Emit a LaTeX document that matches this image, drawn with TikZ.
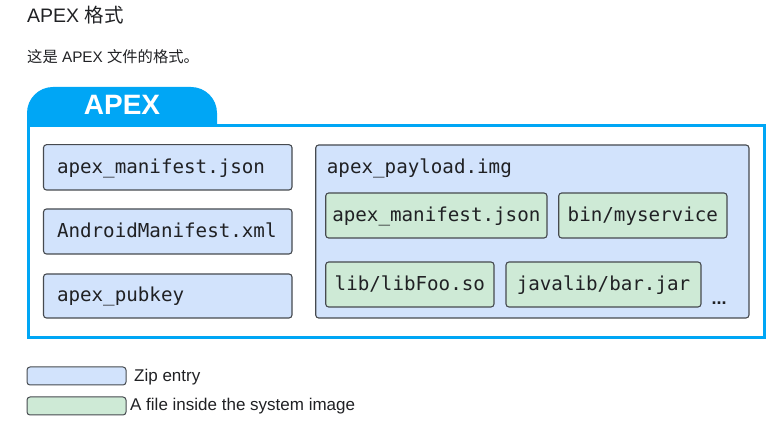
\documentclass[tikz,border=0pt]{standalone}
\usepackage{fontspec}
\setmainfont{Liberation Sans}
\newfontfamily\cjk{Noto Sans CJK SC}
\newfontfamily\monof{DejaVu Sans Mono}
\definecolor{apexblue}{RGB}{0,166,245}
\definecolor{zipfill}{HTML}{D2E3FC}
\definecolor{sysfill}{HTML}{CEEAD6}
\definecolor{boxline}{RGB}{70,74,79}
\definecolor{txt}{HTML}{202124}
\tikzset{
  mono/.style={font=\monof\fontsize{19.2}{22}\selectfont, text=txt},
  entry/.style={draw=boxline, line width=1.1pt, rounded corners=3pt, inner ysep=0pt,
    text height=16pt, text depth=4pt},
  zipbox/.style={entry, fill=zipfill, mono},
  sysbox/.style={entry, fill=sysfill, mono, inner xsep=0pt},
  legbox/.style={draw=boxline, line width=1pt, rounded corners=3pt, minimum width=99pt, minimum height=18pt, inner sep=0pt},
  legtext/.style={anchor=west, inner sep=0pt, text=txt, font=\fontsize{17}{19}\selectfont},
}
\begin{document}
\begin{tikzpicture}[x=1pt,y=-1pt]
\useasboundingbox (0,0) rectangle (780,430);
% title
\node[anchor=base west, inner sep=0pt, text=txt, font=\fontsize{19.5}{22}\selectfont] (title) at (27,23) {APEX {\cjk 格式}};
\node[anchor=base west, inner sep=0pt, text=txt, font=\fontsize{15.3}{17}\selectfont] (sub) at (27,63) {{\cjk 这是} APEX {\cjk 文件的格式。}};
% tab and frame
\fill[apexblue, rounded corners=26pt] (27,125) -- (27,87) -- (217,87) -- (217,125);
\node[anchor=base, inner sep=0pt, text=white, font=\bfseries\fontsize{28}{30}\selectfont] (apex) at (122,115) {APEX};
\draw[apexblue, line width=3pt, fill=white] (28.5,125.5) rectangle (764.5,337.5);
% left column
\node[zipbox, minimum height=45.3pt, inner xsep=13.5pt, text width=221.5pt, align=left] (m1) at (167.75,167.35) {apex\_manifest.json};
\node[zipbox, minimum height=45pt, inner xsep=13.5pt, text width=221.5pt, align=left] (m2) at (167.75,231.5) {AndroidManifest.xml};
\node[zipbox, minimum height=44pt, inner xsep=13.5pt, text width=221.5pt, align=left] (m3) at (167.75,296) {apex\_pubkey};
% payload
\node[entry, fill=zipfill, minimum width=433.3pt, minimum height=173pt] (payload) at (532.35,231.5) {};
\node[mono, anchor=base west, inner sep=0pt] (ptitle) at (326.7,174) {apex\_payload.img};
\node[sysbox, minimum width=221.3pt, minimum height=45pt] (g1) at (436.35,215.5) {apex\_manifest.json};
\node[sysbox, minimum width=168.3pt, minimum height=45pt] (g2) at (642.85,215.5) {bin/myservice};
\node[sysbox, minimum width=168.3pt, minimum height=45pt] (g3) at (409.85,284.5) {lib/libFoo.so};
\node[sysbox, minimum width=195pt, minimum height=45pt] (g4) at (603.5,284.5) {javalib/bar.jar};
\node[anchor=base west, inner sep=0pt, text=txt, font=\bfseries\fontsize{18}{20}\selectfont] (dots) at (711.5,305) {...};
% legend
\node[legbox, fill=zipfill] (l1) at (76.5,376) {};
\node[legtext] (l1t) at (134,377) {Zip entry};
\node[legbox, fill=sysfill] (l2) at (76.5,406) {};
\node[legtext] (l2t) at (130,406.5) {A file inside the system image};
\end{tikzpicture}
\end{document}
